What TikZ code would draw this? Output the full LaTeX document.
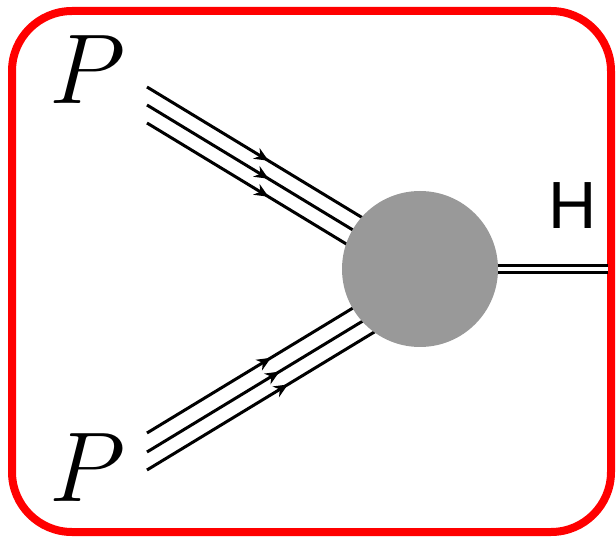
\documentclass[tikz,border=0pt]{standalone}
\usepackage{fontspec}
\usetikzlibrary{arrows.meta, positioning, decorations.markings}
\newfontfamily\labelfont{Liberation Sans}
\definecolor{framecolor}{RGB}{255, 0, 0}
\definecolor{blobcolor} {RGB}{153, 153, 153}
\tikzset{
	frame/.style={
		draw=framecolor, line width=0.16cm, rounded corners=1.2cm
	},
	blob/.style={
		circle, fill=blobcolor, minimum size=3.12cm, inner sep=0pt
	},
	quark/.style={
		line width=0.06cm, postaction={decorate},
		decoration={markings,
			mark=at position #1 with {\arrow{Stealth[length=8pt, width=7pt]}}}
	},
	higgs/.style={
		double, double distance=0.09cm, line width=0.05cm
	},
	proton/.style={
		inner sep=0pt, font=\Huge, scale=2.27
	},
	hlabel/.style={
		inner sep=0pt, font=\labelfont\fontsize{38}{42}\selectfont
	}
}

\begin{document}
\begin{tikzpicture}
	\useasboundingbox (0,0) rectangle (12.32,10.76);
	
	%% frame
	\draw[frame] (0.24,0.12) rectangle (12.22,10.54);
	
	%% labels
	\node[proton] (ptop) at (1.76,9.36) {$P$};
	\node[proton] (pbot) at (1.76,1.40) {$P$};
	\node[hlabel] (hlab) at (11.46,6.64) {H};
	
	%% upper proton (three quarks)
	\coordinate (ua) at (2.94,9.02);
	\coordinate (ub) at (2.94,8.66);
	\coordinate (uc) at (2.94,8.30);
	\coordinate (ua') at (7.8,6.07);
	\coordinate (ub') at (7.8,5.71);
	\coordinate (uc') at (7.8,5.35);
	\draw[quark=0.5] (ua) -- (ua');
	\draw[quark=0.5] (ub) -- (ub');
	\draw[quark=0.5] (uc) -- (uc');
	
	%% lower proton (three quarks)
	\coordinate (la) at (2.94,2.10);
	\coordinate (lb) at (2.94,1.72);
	\coordinate (lc) at (2.94,1.36);
	\coordinate (la') at (7.8,5.05);
	\coordinate (lb') at (7.8,4.67);
	\coordinate (lc') at (7.8,4.31);
	\draw[quark=0.51] (la) -- (la');
	\draw[quark=0.545] (lb) -- (lb');
	\draw[quark=0.58] (lc) -- (lc');
	
	%% interaction blob
	\node[blob] (blob) at (8.4,5.38) {};
	
	%% Higgs out
	\coordinate (hout) at (12.15,5.38);
	\draw[higgs] (blob.east) -- (hout);
	
\end{tikzpicture}
\end{document}
